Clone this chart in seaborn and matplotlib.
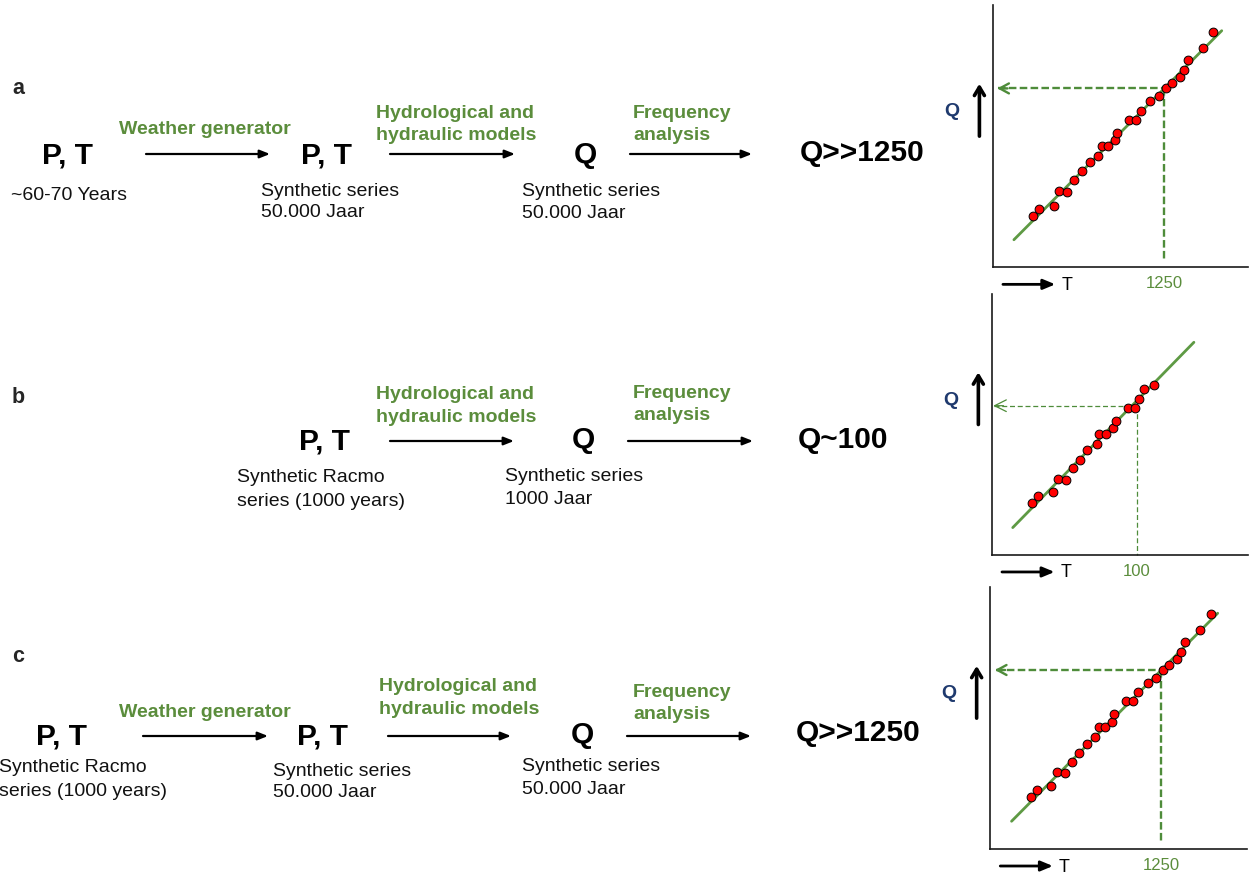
import matplotlib
matplotlib.use("Agg")
import matplotlib.pyplot as plt
import seaborn as sns

sns.set_theme(style="white")
plt.rcParams["font.family"] = ["Liberation Sans", "DejaVu Sans"]

# ---- frequency-curve data (return period T vs discharge Q, relative units) ----
a_ret = [15.9, 18.1, 24.0, 25.9, 29.1, 31.8, 34.8, 37.9, 41.3, 42.6, 45.0, 47.7, 48.6,
         53.2, 55.9, 58.0, 61.5, 64.9, 67.8, 70.0, 73.1, 74.8, 76.3, 82.1, 86.3]
a_q = [19.7, 22.2, 23.5, 29.0, 28.6, 33.3, 36.6, 40.0, 42.6, 46.4, 46.4, 48.5, 51.1,
       56.3, 56.3, 59.5, 63.4, 65.2, 68.2, 70.1, 72.6, 75.1, 78.9, 83.6, 89.6]
a_fit_t = [8.3, 89.6]
a_fit_q = [10.5, 90.2]
a_design = (67.0, 68.2)

b_ret = [15.7, 17.9, 23.8, 25.7, 29.0, 31.6, 34.4, 37.3, 40.9, 41.9, 44.5, 47.1, 48.3,
         53.0, 55.7, 57.3, 59.4, 63.4]
b_q = [19.8, 22.5, 24.0, 29.1, 28.9, 33.5, 36.5, 40.4, 42.5, 46.2, 46.2, 48.8, 51.2,
       56.3, 56.3, 59.9, 63.6, 65.3]
b_fit_t = [8.2, 78.8]
b_fit_q = [10.5, 81.5]
b_design = (56.5, 57.2)

c_ret = [15.8, 18.2, 23.9, 26.0, 29.1, 31.8, 34.7, 37.7, 40.9, 42.3, 44.7, 47.4, 48.2,
         53.0, 55.6, 57.8, 61.6, 64.7, 67.5, 69.7, 73.0, 74.5, 76.0, 81.8, 86.0]
c_q = [20.0, 22.4, 24.1, 29.3, 28.9, 33.4, 36.8, 40.3, 42.7, 46.5, 46.5, 48.7, 51.5,
       56.4, 56.4, 59.9, 63.6, 65.4, 68.5, 70.3, 72.6, 75.3, 79.2, 83.6, 89.8]
c_fit_t = [8.4, 88.7]
c_fit_q = [10.6, 90.1]
c_design = (66.6, 68.4)

design_labels = ["1250", "100", "1250"]
panel_letters = ["a", "b", "c"]
results = ["Q>>1250", "Q~100", "Q>>1250"]

GREEN_TXT = "#5B8D3C"
GREEN_LINE = "#5E9A44"
GREEN_DASH = "#4E8C3A"
NAVY = "#1F3A6E"

W, H = 1249, 878
fig = plt.figure(figsize=(W / 100, H / 100), dpi=100)

# overlay in pixel coordinates for the process diagram
ov = fig.add_axes([0, 0, 1, 1])
ov.set_xlim(0, W)
ov.set_ylim(H, 0)
ov.axis("off")

BIG = dict(fontsize=21.5, fontweight="bold", color="black", ha="center", va="center")
STEP = dict(fontsize=14, fontweight="bold", color=GREEN_TXT, ha="left", va="center")
NOTE = dict(fontsize=14, color="#111111", ha="left", va="center")


def flow_arrow(x0, x1, y):
    ov.annotate("", xy=(x1, y), xytext=(x0, y),
                arrowprops=dict(arrowstyle="-|>,head_length=0.5,head_width=0.2",
                                lw=1.6, color="black", shrinkA=0, shrinkB=0))


# row a
ov.text(18, 89, panel_letters[0], fontsize=15.5, fontweight="bold", ha="center", va="center")
ov.text(68, 155, "P, T", **BIG)
ov.text(11, 196, "~60-70 Years", **NOTE)
flow_arrow(146, 270, 155)
ov.text(205, 130, "Weather generator", **{**STEP, "ha": "center"})
ov.text(327, 155, "P, T", **BIG)
ov.text(261, 192, "Synthetic series", **NOTE)
ov.text(261, 213, "50.000 Jaar", **NOTE)
flow_arrow(390, 515, 155)
ov.text(376, 113, "Hydrological and", **STEP)
ov.text(376, 136, "hydraulic models", **STEP)
ov.text(585, 155, "Q", **BIG)
ov.text(522, 192, "Synthetic series", **NOTE)
ov.text(522, 214, "50.000 Jaar", **NOTE)
flow_arrow(630, 752, 155)
ov.text(633, 113, "Frequency", **STEP)
ov.text(633, 135, "analysis", **STEP)
ov.text(862, 153, results[0], **BIG)

# row b
ov.text(18, 398, panel_letters[1], fontsize=15.5, fontweight="bold", ha="center", va="center")
ov.text(325, 442, "P, T", **BIG)
ov.text(237, 478, "Synthetic Racmo", **NOTE)
ov.text(237, 502, "series (1000 years)", **NOTE)
flow_arrow(390, 514, 442)
ov.text(376, 395, "Hydrological and", **STEP)
ov.text(376, 418, "hydraulic models", **STEP)
ov.text(583, 440, "Q", **BIG)
ov.text(505, 477, "Synthetic series", **NOTE)
ov.text(505, 500, "1000 Jaar", **NOTE)
flow_arrow(628, 753, 442)
ov.text(633, 394, "Frequency", **STEP)
ov.text(633, 416, "analysis", **STEP)
ov.text(843, 440, results[1], **BIG)

# row c
ov.text(18, 657, panel_letters[2], fontsize=15.5, fontweight="bold", ha="center", va="center")
ov.text(62, 737, "P, T", **BIG)
ov.text(-1, 768, "Synthetic Racmo", **NOTE)
ov.text(-1, 792, "series (1000 years)", **NOTE)
flow_arrow(143, 268, 737)
ov.text(205, 713, "Weather generator", **{**STEP, "ha": "center"})
ov.text(323, 737, "P, T", **BIG)
ov.text(273, 772, "Synthetic series", **NOTE)
ov.text(273, 793, "50.000 Jaar", **NOTE)
flow_arrow(388, 511, 737)
ov.text(379, 687, "Hydrological and", **STEP)
ov.text(379, 710, "hydraulic models", **STEP)
ov.text(582, 735, "Q", **BIG)
ov.text(522, 767, "Synthetic series", **NOTE)
ov.text(522, 790, "50.000 Jaar", **NOTE)
flow_arrow(627, 751, 737)
ov.text(633, 693, "Frequency", **STEP)
ov.text(633, 715, "analysis", **STEP)
ov.text(858, 733, results[2], **BIG)

# ---- frequency-curve panels ----
panels = [
    dict(rect=[992.7, 6.0, 1248.3, 268.3], t=a_ret, q=a_q, ft=a_fit_t, fq=a_fit_q,
         design=a_design, tip=1.8, vbot=2.9, dash_lw=1.7, dashes=(3.2, 1.4),
         head="->,head_length=0.55,head_width=0.3"),
    dict(rect=[991.7, 295.0, 1248.3, 556.0], t=b_ret, q=b_q, ft=b_fit_t, fq=b_fit_q,
         design=b_design, tip=0.6, vbot=0.0, dash_lw=0.9, dashes=(4, 2.2),
         head="->,head_length=0.7,head_width=0.35"),
    dict(rect=[990.0, 588.3, 1246.7, 850.0], t=c_ret, q=c_q, ft=c_fit_t, fq=c_fit_q,
         design=c_design, tip=1.9, vbot=2.9, dash_lw=1.7, dashes=(3.2, 1.4),
         head="->,head_length=0.55,head_width=0.3"),
]

for p, lab in zip(panels, design_labels):
    x0, y0, x1, y1 = p["rect"]
    ax = fig.add_axes([x0 / W, 1 - y1 / H, (x1 - x0) / W, (y1 - y0) / H])
    ax.set_facecolor("none")
    ax.set_xlim(0, 100)
    ax.set_ylim(0, 100)
    ax.set_xticks([])
    ax.set_yticks([])
    for side in ("top", "right"):
        ax.spines[side].set_visible(False)
    for side in ("left", "bottom"):
        ax.spines[side].set_color("#1a1a1a")
        ax.spines[side].set_linewidth(1.2)

    sns.lineplot(x=p["ft"], y=p["fq"], ax=ax, color=GREEN_LINE, linewidth=2.0,
                 zorder=2, legend=False)
    sns.scatterplot(x=p["t"], y=p["q"], ax=ax, color="#FF0000", edgecolor="black",
                    linewidth=0.7, s=40, zorder=3, legend=False)

    dt, dq = p["design"]
    ax.plot([p["tip"] + 0.3, dt], [dq, dq], color=GREEN_DASH, lw=p["dash_lw"],
            dashes=p["dashes"], zorder=1)
    ax.plot([dt, dt], [dq, p["vbot"]], color=GREEN_DASH, lw=p["dash_lw"],
            dashes=p["dashes"], zorder=1, clip_on=False)
    ax.annotate("", xy=(p["tip"], dq), xytext=(p["tip"] + 4, dq),
                arrowprops=dict(arrowstyle=p["head"], lw=p["dash_lw"],
                                color=GREEN_DASH, shrinkA=0, shrinkB=0))

    # return period label below the axis
    ax.annotate(lab, xy=(dt, 0), xycoords="data", xytext=(0, -11),
                textcoords="offset points", ha="center", va="center",
                fontsize=12, color=GREEN_TXT, annotation_clip=False)

    # axis direction indicators
    ax.annotate("", xy=(0.245, -0.065), xytext=(0.04, -0.065),
                xycoords="axes fraction",
                arrowprops=dict(arrowstyle="-|>,head_length=0.6,head_width=0.25",
                                lw=2.0, color="black", shrinkA=0, shrinkB=0),
                annotation_clip=False)
    ax.text(0.29, -0.065, "T", transform=ax.transAxes, ha="center", va="center",
            fontsize=13, color="black")
    ax.annotate("", xy=(-0.052, 0.70), xytext=(-0.052, 0.50),
                xycoords="axes fraction",
                arrowprops=dict(arrowstyle="->,head_length=0.5,head_width=0.3",
                                lw=2.6, color="black", shrinkA=0, shrinkB=0),
                annotation_clip=False)
    ax.text(-0.16, 0.597, "Q", transform=ax.transAxes, ha="center", va="center",
            fontsize=14, fontweight="bold", color=NAVY)

fig.savefig("out.png", dpi=100)
